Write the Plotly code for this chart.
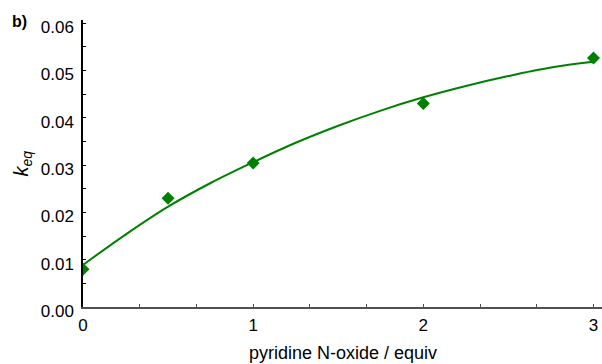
import plotly.graph_objects as go

# measured points
equiv = [0, 0.5, 1, 2, 3]
keq = [0.0080, 0.0230, 0.0304, 0.0430, 0.0526]

# fitted curve
fit_x = [0, 0.25, 0.5, 0.75, 1, 1.25, 1.5, 1.75, 2, 2.25, 2.5, 2.75, 3]
fit_y = [0.0089, 0.0153, 0.0212, 0.0262, 0.0306, 0.0347, 0.0383, 0.0415,
         0.0443, 0.0467, 0.0488, 0.0506, 0.0518]

y_ticks = [0.00, 0.01, 0.02, 0.03, 0.04, 0.05, 0.06]
y_tick_text = ["0.00", "0.01", "0.02", "0.03", "0.04", "0.05", "0.06"]
x_ticks = [0, 1, 2, 3]

GREEN = "#008000"
FONT = "Liberation Sans, Arial, sans-serif"

fig = go.Figure()
fig.add_trace(go.Scatter(x=fit_x, y=fit_y, mode="lines",
                         line=dict(color=GREEN, width=2, shape="spline"),
                         hoverinfo="skip"))
fig.add_trace(go.Scatter(x=equiv, y=keq, mode="markers",
                         marker=dict(symbol="diamond", size=10, color=GREEN)))

fig.update_layout(
    width=602, height=364,
    margin=dict(l=83, r=0, t=20, b=57),
    paper_bgcolor="white", plot_bgcolor="white",
    showlegend=False,
    font=dict(family=FONT, size=17, color="#000"),
    xaxis=dict(range=[0, 3.05], tickvals=x_ticks, ticktext=[str(v) for v in x_ticks],
               showgrid=False, zeroline=False, showline=True, linecolor="#505050",
               linewidth=1.5, ticks="inside", ticklen=3, tickcolor="#505050",
               ticklabelstandoff=2, automargin=False,
               minor=dict(dtick=1/3, tick0=0, ticks="inside", ticklen=3,
                          tickcolor="#505050", showgrid=False)),
    yaxis=dict(range=[0, 0.06064], tickvals=y_ticks, ticktext=y_tick_text,
               showgrid=False, zeroline=False, showline=True, linecolor="#000",
               linewidth=1.5, ticks="inside", ticklen=3, tickcolor="#000",
               ticklabelshift=4, ticklabelstandoff=4, automargin=False,
               minor=dict(dtick=0.005, tick0=0, ticks="inside", ticklen=3,
                          tickcolor="#000", showgrid=False)),
    annotations=[
        dict(text="<b>b)</b>", xref="paper", yref="paper", x=-0.1407, y=0.9965,
             xanchor="left", yanchor="middle", showarrow=False,
             font=dict(size=16, family=FONT)),
        dict(text="<i>k</i><sub><i>eq</i></sub>", xref="paper", yref="paper",
             x=0, y=0.5, xshift=-61, textangle=-90, xanchor="center", yanchor="middle",
             showarrow=False, font=dict(size=20, family=FONT)),
        dict(text="pyridine N-oxide / equiv", xref="paper", yref="paper",
             x=0.5, y=0, yshift=-46, xanchor="center", yanchor="middle",
             showarrow=False, font=dict(size=18, family=FONT)),
    ],
)

fig.write_html("out.html", config={"displayModeBar": False},
               post_script="document.body.style.margin='0';")
